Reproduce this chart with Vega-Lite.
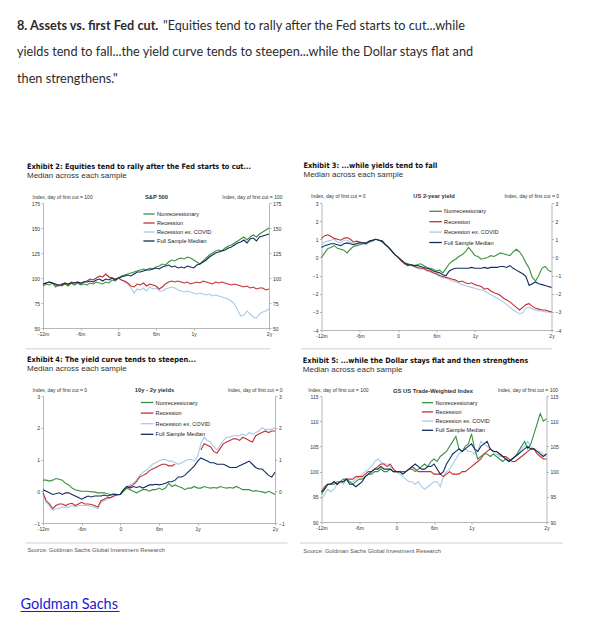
{
"$schema":"https://vega.github.io/schema/vega-lite/v6.json",
"padding":{"left":17,"top":0,"right":5,"bottom":5},
"datasets":{
"hdr":[
{"line":1,"seg":"b","text":"8. Assets vs. first Fed cut."},
{"line":1,"seg":"a","text":"\"Equities tend to rally after the Fed starts to cut...while"},
{"line":2,"seg":"c","text":"yields tend to fall...the yield curve tends to steepen...while the Dollar stays flat and"},
{"line":3,"seg":"c","text":"then strengthens.\""}],
"spx":[
{"m":-12,"N":92,"R":94,"C":94,"F":94},{"m":-11.5,"N":94,"R":95,"C":95,"F":95},{"m":-11,"N":93,"R":96,"C":96,"F":96},{"m":-10.5,"N":95,"R":95,"C":95,"F":95},
{"m":-10,"N":91,"R":93,"C":93,"F":94},{"m":-9.5,"N":93,"R":92,"C":92,"F":93},{"m":-9,"N":92,"R":94,"C":94,"F":93},{"m":-8.5,"N":94,"R":95,"C":95,"F":95},
{"m":-8,"N":92,"R":93,"C":93,"F":94},{"m":-7.5,"N":95,"R":96,"C":96,"F":95},{"m":-7,"N":93,"R":95,"C":95,"F":95},{"m":-6.5,"N":95,"R":96,"C":96,"F":96},
{"m":-6,"N":93,"R":94,"C":94,"F":95},{"m":-5.5,"N":94,"R":96,"C":96,"F":96},{"m":-5,"N":93,"R":97,"C":97,"F":96},{"m":-4.5,"N":95,"R":99,"C":99,"F":97},
{"m":-4,"N":94,"R":98,"C":98,"F":96},{"m":-3.5,"N":96,"R":100,"C":100,"F":98},{"m":-3,"N":95,"R":102,"C":102,"F":99},{"m":-2.5,"N":94,"R":101,"C":101,"F":97},
{"m":-2,"N":96,"R":104,"C":104,"F":99},{"m":-1.5,"N":95,"R":101,"C":101,"F":98},{"m":-1,"N":98,"R":100,"C":100,"F":100},{"m":-0.5,"N":97,"R":99,"C":99,"F":98},
{"m":0,"N":100,"R":100,"C":100,"F":100},{"m":0.5,"N":102,"R":98,"C":98,"F":101},{"m":1,"N":103,"R":97,"C":96,"F":102},{"m":1.5,"N":104,"R":95,"C":94,"F":103},
{"m":2,"N":105,"R":92,"C":90,"F":102},{"m":2.5,"N":106,"R":91,"C":85,"F":104},{"m":3,"N":107,"R":94,"C":89,"F":106},{"m":3.5,"N":108,"R":93,"C":88,"F":106},
{"m":4,"N":109,"R":95,"C":90,"F":107},{"m":4.5,"N":108,"R":92,"C":87,"F":108},{"m":5,"N":110,"R":94,"C":91,"F":108},{"m":5.5,"N":109,"R":93,"C":89,"F":109},
{"m":6,"N":111,"R":92,"C":90,"F":110},{"m":6.5,"N":112,"R":89,"C":87,"F":109},{"m":7,"N":114,"R":91,"C":87,"F":111},{"m":7.5,"N":113,"R":94,"C":89,"F":112},
{"m":8,"N":116,"R":96,"C":90,"F":113},{"m":8.5,"N":118,"R":97,"C":91,"F":111},{"m":9,"N":117,"R":96,"C":90,"F":112},{"m":9.5,"N":119,"R":97,"C":88,"F":110},
{"m":10,"N":120,"R":96,"C":87,"F":111},{"m":10.5,"N":119,"R":95,"C":86,"F":110},{"m":11,"N":121,"R":96,"C":87,"F":112},{"m":11.5,"N":120,"R":94,"C":86,"F":111},
{"m":12,"N":118,"R":95,"C":85,"F":110},{"m":12.5,"N":116,"R":96,"C":84,"F":113},{"m":13,"N":114,"R":95,"C":85,"F":114},{"m":13.5,"N":117,"R":97,"C":84,"F":116},
{"m":14,"N":120,"R":96,"C":83,"F":118},{"m":14.5,"N":123,"R":95,"C":84,"F":121},{"m":15,"N":125,"R":94,"C":82,"F":123},{"m":15.5,"N":127,"R":96,"C":83,"F":125},
{"m":16,"N":128,"R":95,"C":82,"F":126},{"m":16.5,"N":127,"R":96,"C":81,"F":127},{"m":17,"N":130,"R":95,"C":80,"F":128},{"m":17.5,"N":132,"R":94,"C":79,"F":130},
{"m":18,"N":133,"R":93,"C":77,"F":131},{"m":18.5,"N":135,"R":94,"C":74,"F":133},{"m":19,"N":137,"R":93,"C":68,"F":135},{"m":19.5,"N":139,"R":92,"C":62,"F":136},
{"m":20,"N":141,"R":91,"C":63,"F":138},{"m":20.5,"N":138,"R":92,"C":67,"F":135},{"m":21,"N":141,"R":90,"C":64,"F":139},{"m":21.5,"N":143,"R":91,"C":61,"F":140},
{"m":22,"N":141,"R":89,"C":60,"F":137},{"m":22.5,"N":144,"R":90,"C":64,"F":141},{"m":23,"N":146,"R":90,"C":66,"F":142},{"m":23.5,"N":148,"R":88,"C":67,"F":143},
{"m":24,"N":150,"R":89,"C":69,"F":144}],
"ust":[
{"m":-12,"N":0.0,"R":1.05,"C":0.7,"F":0.55},{"m":-11.5,"N":0.25,"R":1.2,"C":0.85,"F":0.65},{"m":-11,"N":0.5,"R":1.25,"C":0.9,"F":0.7},{"m":-10.5,"N":0.55,"R":1.15,"C":0.95,"F":0.75},
{"m":-10,"N":0.65,"R":1.05,"C":1.0,"F":0.75},{"m":-9.5,"N":0.5,"R":1.0,"C":0.85,"F":0.7},{"m":-9,"N":0.45,"R":0.95,"C":0.8,"F":0.65},{"m":-8.5,"N":0.4,"R":1.05,"C":0.95,"F":0.75},
{"m":-8,"N":0.25,"R":1.1,"C":0.95,"F":0.8},{"m":-7.5,"N":0.45,"R":1.0,"C":0.85,"F":0.75},{"m":-7,"N":0.6,"R":0.85,"C":0.75,"F":0.7},{"m":-6.5,"N":0.65,"R":0.9,"C":0.8,"F":0.75},
{"m":-6,"N":0.7,"R":0.85,"C":0.85,"F":0.8},{"m":-5.5,"N":0.75,"R":0.8,"C":0.75,"F":0.8},{"m":-5,"N":0.8,"R":0.75,"C":0.7,"F":0.8},{"m":-4.5,"N":0.85,"R":0.9,"C":0.85,"F":0.9},
{"m":-4,"N":0.9,"R":0.95,"C":0.95,"F":0.95},{"m":-3.5,"N":1.0,"R":1.0,"C":1.0,"F":1.0},{"m":-3,"N":0.95,"R":0.95,"C":0.95,"F":0.95},{"m":-2.5,"N":0.85,"R":0.9,"C":0.9,"F":0.9},
{"m":-2,"N":0.7,"R":0.7,"C":0.7,"F":0.7},{"m":-1.5,"N":0.55,"R":0.55,"C":0.55,"F":0.55},{"m":-1,"N":0.35,"R":0.35,"C":0.35,"F":0.35},{"m":-0.5,"N":0.15,"R":0.15,"C":0.15,"F":0.15},
{"m":0,"N":0,"R":0,"C":0,"F":0},{"m":0.5,"N":-0.15,"R":-0.2,"C":-0.2,"F":-0.15},{"m":1,"N":-0.3,"R":-0.35,"C":-0.35,"F":-0.3},{"m":1.5,"N":-0.35,"R":-0.45,"C":-0.45,"F":-0.4},
{"m":2,"N":-0.4,"R":-0.4,"C":-0.45,"F":-0.4},{"m":2.5,"N":-0.45,"R":-0.5,"C":-0.5,"F":-0.45},{"m":3,"N":-0.4,"R":-0.55,"C":-0.6,"F":-0.45},{"m":3.5,"N":-0.35,"R":-0.6,"C":-0.65,"F":-0.5},
{"m":4,"N":-0.45,"R":-0.6,"C":-0.65,"F":-0.55},{"m":4.5,"N":-0.55,"R":-0.7,"C":-0.75,"F":-0.6},{"m":5,"N":-0.6,"R":-0.75,"C":-0.8,"F":-0.65},{"m":5.5,"N":-0.65,"R":-0.85,"C":-0.85,"F":-0.75},
{"m":6,"N":-0.75,"R":-0.9,"C":-0.95,"F":-0.8},{"m":6.5,"N":-0.7,"R":-1.0,"C":-1.05,"F":-0.85},{"m":7,"N":-0.85,"R":-1.05,"C":-1.1,"F":-0.95},{"m":7.5,"N":-0.6,"R":-1.1,"C":-1.15,"F":-1.0},
{"m":8,"N":-0.35,"R":-1.15,"C":-1.2,"F":-0.75},{"m":8.5,"N":-0.2,"R":-1.2,"C":-1.3,"F":-0.65},{"m":9,"N":-0.1,"R":-1.25,"C":-1.35,"F":-0.6},{"m":9.5,"N":0.05,"R":-1.35,"C":-1.4,"F":-0.6},
{"m":10,"N":0.15,"R":-1.3,"C":-1.5,"F":-0.6},{"m":10.5,"N":0.3,"R":-1.4,"C":-1.55,"F":-0.6},{"m":11,"N":0.55,"R":-1.45,"C":-1.6,"F":-0.6},{"m":11.5,"N":0.35,"R":-1.4,"C":-1.65,"F":-0.55},
{"m":12,"N":0.1,"R":-1.5,"C":-1.7,"F":-0.6},{"m":12.5,"N":0.05,"R":-1.55,"C":-1.75,"F":-0.6},{"m":13,"N":-0.1,"R":-1.6,"C":-1.8,"F":-0.6},{"m":13.5,"N":-0.05,"R":-1.75,"C":-1.85,"F":-0.55},
{"m":14,"N":0.0,"R":-1.7,"C":-1.95,"F":-0.6},{"m":14.5,"N":0.1,"R":-1.85,"C":-2.05,"F":-0.55},{"m":15,"N":0.05,"R":-1.95,"C":-2.15,"F":-0.55},{"m":15.5,"N":0.15,"R":-2.0,"C":-2.25,"F":-0.55},
{"m":16,"N":0.25,"R":-2.1,"C":-2.35,"F":-0.5},{"m":16.5,"N":0.2,"R":-2.25,"C":-2.45,"F":-0.5},{"m":17,"N":0.15,"R":-2.35,"C":-2.6,"F":-0.55},{"m":17.5,"N":0.1,"R":-2.45,"C":-2.75,"F":-0.45},
{"m":18,"N":0.3,"R":-2.6,"C":-2.9,"F":-0.6},{"m":18.5,"N":0.45,"R":-2.75,"C":-3.0,"F":-0.7},{"m":19,"N":0.3,"R":-2.9,"C":-3.1,"F":-0.8},{"m":19.5,"N":0.05,"R":-2.75,"C":-3.05,"F":-0.9},
{"m":20,"N":-0.3,"R":-2.6,"C":-2.8,"F":-1.05},{"m":20.5,"N":-0.6,"R":-2.55,"C":-2.75,"F":-1.55},{"m":21,"N":-1.1,"R":-2.7,"C":-2.85,"F":-1.45},{"m":21.5,"N":-1.3,"R":-2.8,"C":-2.9,"F":-1.35},
{"m":22,"N":-1.0,"R":-2.85,"C":-2.95,"F":-1.45},{"m":22.5,"N":-0.6,"R":-2.9,"C":-2.95,"F":-1.5},{"m":23,"N":-0.5,"R":-2.9,"C":-3.0,"F":-1.55},{"m":23.5,"N":-0.7,"R":-2.95,"C":-3.0,"F":-1.6},
{"m":24,"N":-0.8,"R":-3.0,"C":-3.05,"F":-1.65}],
"curve":[
{"m":-12,"N":0.35,"R":-0.05,"C":-0.1,"F":0.05},{"m":-11.5,"N":0.35,"R":-0.3,"C":-0.35,"F":0.0},{"m":-11,"N":0.32,"R":-0.4,"C":-0.45,"F":-0.05},{"m":-10.5,"N":0.35,"R":-0.55,"C":-0.6,"F":-0.1},
{"m":-10,"N":0.4,"R":-0.45,"C":-0.55,"F":-0.08},{"m":-9.5,"N":0.38,"R":-0.4,"C":-0.55,"F":-0.05},{"m":-9,"N":0.35,"R":-0.4,"C":-0.5,"F":-0.1},{"m":-8.5,"N":0.25,"R":-0.45,"C":-0.5,"F":-0.05},
{"m":-8,"N":0.2,"R":-0.4,"C":-0.5,"F":-0.05},{"m":-7.5,"N":0.1,"R":-0.38,"C":-0.45,"F":-0.1},{"m":-7,"N":0.05,"R":-0.45,"C":-0.5,"F":-0.15},{"m":-6.5,"N":0.02,"R":-0.4,"C":-0.45,"F":-0.2},
{"m":-6,"N":0.0,"R":-0.35,"C":-0.45,"F":-0.25},{"m":-5.5,"N":0.0,"R":-0.4,"C":-0.45,"F":-0.2},{"m":-5,"N":0.0,"R":-0.4,"C":-0.45,"F":-0.15},{"m":-4.5,"N":-0.02,"R":-0.42,"C":-0.48,"F":-0.18},
{"m":-4,"N":-0.02,"R":-0.45,"C":-0.5,"F":-0.15},{"m":-3.5,"N":-0.05,"R":-0.5,"C":-0.55,"F":-0.15},{"m":-3,"N":-0.05,"R":-0.3,"C":-0.35,"F":-0.15},{"m":-2.5,"N":-0.05,"R":-0.25,"C":-0.3,"F":-0.12},
{"m":-2,"N":-0.08,"R":-0.2,"C":-0.25,"F":-0.15},{"m":-1.5,"N":-0.1,"R":-0.2,"C":-0.2,"F":-0.12},{"m":-1,"N":-0.08,"R":-0.15,"C":-0.15,"F":-0.1},{"m":-0.5,"N":-0.1,"R":-0.12,"C":-0.12,"F":-0.1},
{"m":0,"N":-0.1,"R":-0.1,"C":-0.1,"F":-0.1},{"m":0.5,"N":0.0,"R":0.05,"C":0.05,"F":0.05},{"m":1,"N":0.1,"R":0.1,"C":0.15,"F":0.15},{"m":1.5,"N":0.05,"R":0.15,"C":0.2,"F":0.1},
{"m":2,"N":0.0,"R":0.2,"C":0.25,"F":0.15},{"m":2.5,"N":-0.05,"R":0.3,"C":0.35,"F":0.12},{"m":3,"N":0.0,"R":0.45,"C":0.5,"F":0.15},{"m":3.5,"N":0.05,"R":0.5,"C":0.6,"F":0.1},
{"m":4,"N":0.05,"R":0.55,"C":0.65,"F":0.15},{"m":4.5,"N":0.0,"R":0.65,"C":0.75,"F":0.2},{"m":5,"N":0.05,"R":0.7,"C":0.85,"F":0.2},{"m":5.5,"N":0.05,"R":0.75,"C":0.9,"F":0.22},
{"m":6,"N":0.1,"R":0.8,"C":0.95,"F":0.2},{"m":6.5,"N":0.05,"R":0.85,"C":1.0,"F":0.22},{"m":7,"N":0.1,"R":0.85,"C":1.0,"F":0.25},{"m":7.5,"N":0.25,"R":0.8,"C":0.95,"F":0.3},
{"m":8,"N":0.15,"R":0.8,"C":0.95,"F":0.3},{"m":8.5,"N":0.2,"R":0.85,"C":0.9,"F":0.35},{"m":9,"N":0.15,"R":null,"C":0.85,"F":0.45},{"m":9.5,"N":0.12,"R":null,"C":0.9,"F":0.45},
{"m":10,"N":0.05,"R":null,"C":0.95,"F":0.5},{"m":10.5,"N":0.1,"R":null,"C":1.0,"F":0.6},{"m":11,"N":0.1,"R":null,"C":1.0,"F":0.7},{"m":11.5,"N":0.15,"R":null,"C":0.95,"F":0.8},
{"m":12,"N":0.1,"R":null,"C":1.1,"F":0.95},{"m":12.5,"N":0.1,"R":1.3,"C":1.5,"F":1.05},{"m":13,"N":0.15,"R":1.5,"C":1.7,"F":1.0},{"m":13.5,"N":0.12,"R":1.45,"C":1.6,"F":0.95},
{"m":14,"N":0.1,"R":1.4,"C":1.55,"F":0.9},{"m":14.5,"N":0.12,"R":1.25,"C":1.4,"F":0.9},{"m":15,"N":0.1,"R":1.2,"C":1.3,"F":0.85},{"m":15.5,"N":0.15,"R":1.35,"C":1.45,"F":0.85},
{"m":16,"N":0.12,"R":1.5,"C":1.6,"F":0.85},{"m":16.5,"N":0.1,"R":1.55,"C":1.7,"F":0.8},{"m":17,"N":0.12,"R":1.6,"C":1.7,"F":0.75},{"m":17.5,"N":0.1,"R":1.65,"C":1.75,"F":0.75},
{"m":18,"N":0.15,"R":1.65,"C":1.75,"F":0.75},{"m":18.5,"N":0.1,"R":1.6,"C":1.75,"F":0.8},{"m":19,"N":0.05,"R":1.7,"C":1.8,"F":0.85},{"m":19.5,"N":0.05,"R":1.65,"C":1.75,"F":0.9},
{"m":20,"N":0.05,"R":1.6,"C":1.85,"F":0.95},{"m":20.5,"N":0.0,"R":1.55,"C":1.8,"F":0.85},{"m":21,"N":0.02,"R":1.75,"C":1.85,"F":0.75},{"m":21.5,"N":0.0,"R":1.8,"C":1.9,"F":0.7},
{"m":22,"N":-0.02,"R":1.85,"C":2.0,"F":0.7},{"m":22.5,"N":-0.05,"R":1.9,"C":1.95,"F":0.6},{"m":23,"N":0.0,"R":1.85,"C":1.95,"F":0.5},{"m":23.5,"N":-0.05,"R":1.9,"C":1.95,"F":0.45},
{"m":24,"N":-0.1,"R":1.9,"C":2.0,"F":0.6}],
"usd":[
{"m":-12,"N":95.5,"R":96,"C":94.5,"F":96},{"m":-11.5,"N":96.5,"R":97,"C":95.5,"F":96.5},{"m":-11,"N":97.5,"R":97.5,"C":96.5,"F":97.5},{"m":-10.5,"N":97.5,"R":97.5,"C":96,"F":97.5},
{"m":-10,"N":97.5,"R":98,"C":96.5,"F":98},{"m":-9.5,"N":98,"R":97.5,"C":97.5,"F":97.5},{"m":-9,"N":98,"R":98,"C":98,"F":98},{"m":-8.5,"N":98.5,"R":98,"C":97.5,"F":98},
{"m":-8,"N":98.5,"R":98.5,"C":98.5,"F":98.5},{"m":-7.5,"N":98,"R":98.5,"C":98,"F":97.5},{"m":-7,"N":97.5,"R":98.5,"C":98,"F":97.5},{"m":-6.5,"N":98,"R":99,"C":98.5,"F":97},
{"m":-6,"N":98.5,"R":99,"C":99,"F":97.5},{"m":-5.5,"N":98.5,"R":99,"C":99.5,"F":98},{"m":-5,"N":99,"R":99.5,"C":100,"F":99},{"m":-4.5,"N":99.5,"R":100,"C":100.5,"F":99.5},
{"m":-4,"N":99.5,"R":100,"C":101,"F":100},{"m":-3.5,"N":100,"R":100.5,"C":102,"F":100.5},{"m":-3,"N":100,"R":101,"C":102.5,"F":100.5},{"m":-2.5,"N":100.5,"R":101.5,"C":102,"F":101},
{"m":-2,"N":100,"R":101.5,"C":101.5,"F":100.5},{"m":-1.5,"N":100,"R":101,"C":101.5,"F":100.5},{"m":-1,"N":100.5,"R":101.5,"C":101,"F":100.5},{"m":-0.5,"N":100,"R":100.5,"C":100.5,"F":100},
{"m":0,"N":100,"R":100,"C":100,"F":100},{"m":0.5,"N":100,"R":100,"C":99.5,"F":100},{"m":1,"N":99.5,"R":100,"C":99,"F":99.5},{"m":1.5,"N":100,"R":100,"C":98.5,"F":100},
{"m":2,"N":100.5,"R":100.5,"C":98,"F":100.5},{"m":2.5,"N":100.5,"R":101,"C":98,"F":101},{"m":3,"N":100,"R":100.5,"C":97.5,"F":101.5},{"m":3.5,"N":100.5,"R":100,"C":98,"F":101},
{"m":4,"N":101,"R":100,"C":97,"F":100.5},{"m":4.5,"N":101.5,"R":100,"C":96.5,"F":100.5},{"m":5,"N":101,"R":100,"C":97,"F":101},{"m":5.5,"N":102,"R":100,"C":97.5,"F":101},
{"m":6,"N":102.5,"R":99.5,"C":98,"F":101.5},{"m":6.5,"N":102,"R":99.5,"C":98,"F":100.5},{"m":7,"N":103,"R":99.5,"C":97,"F":99.5},{"m":7.5,"N":103.5,"R":99,"C":99,"F":100},
{"m":8,"N":104,"R":99.5,"C":100,"F":101.5},{"m":8.5,"N":105,"R":100,"C":100.5,"F":102.5},{"m":9,"N":106,"R":99.5,"C":101.5,"F":103.5},{"m":9.5,"N":107,"R":99.5,"C":102.5,"F":104},
{"m":10,"N":104.5,"R":99.5,"C":103.5,"F":104.5},{"m":10.5,"N":104,"R":100,"C":104,"F":104},{"m":11,"N":105,"R":100,"C":104.5,"F":104.5},{"m":11.5,"N":105.5,"R":100.5,"C":104,"F":105},
{"m":12,"N":107.5,"R":101,"C":104,"F":105.5},{"m":12.5,"N":104.5,"R":101.5,"C":103.5,"F":104.5},{"m":13,"N":102.5,"R":102,"C":104,"F":104},{"m":13.5,"N":103,"R":102.5,"C":106,"F":105},
{"m":14,"N":103.5,"R":103.5,"C":105.5,"F":105.5},{"m":14.5,"N":103.5,"R":104,"C":105,"F":106},{"m":15,"N":103,"R":104.5,"C":104.5,"F":104.5},{"m":15.5,"N":103.5,"R":104,"C":104,"F":104},
{"m":16,"N":103,"R":104,"C":103.5,"F":104},{"m":16.5,"N":102.5,"R":103.5,"C":103,"F":103.5},{"m":17,"N":102,"R":103,"C":103,"F":103},{"m":17.5,"N":102.5,"R":103,"C":102.5,"F":102.5},
{"m":18,"N":102,"R":102.5,"C":102,"F":102},{"m":18.5,"N":102.5,"R":102,"C":102.5,"F":102.5},{"m":19,"N":103,"R":102,"C":103,"F":103},{"m":19.5,"N":104,"R":102.5,"C":103.5,"F":103.5},
{"m":20,"N":105,"R":103,"C":104.5,"F":104},{"m":20.5,"N":106,"R":103.5,"C":105,"F":104.5},{"m":21,"N":104.5,"R":104,"C":106,"F":105},{"m":21.5,"N":105.5,"R":104.5,"C":105,"F":104.5},
{"m":22,"N":107.5,"R":104.5,"C":104.5,"F":104.5},{"m":22.5,"N":109.5,"R":103.5,"C":104,"F":104},{"m":23,"N":111.5,"R":103,"C":104,"F":103.5},{"m":23.5,"N":110,"R":102.5,"C":103.5,"F":103},
{"m":24,"N":110.5,"R":102.5,"C":103.5,"F":103.5}]
},
"concat":[
{"width":1,"height":203,"data":{"name":"hdr"},
 "layer":[
  {"transform":[{"filter":"datum.seg=='b'"}],"mark":{"type":"text","align":"left","baseline":"middle","font":"Lato","fontSize":12.7,"fontWeight":"bold","color":"#2b2b2b"},
   "encoding":{"x":{"value":-26},"y":{"field":"line","type":"quantitative","scale":{"domain":[0.0377,7.698],"reverse":true,"nice":false,"zero":false},"axis":null},"text":{"field":"text"}}},
  {"transform":[{"filter":"datum.seg=='a'"}],"mark":{"type":"text","align":"left","baseline":"middle","font":"Lato","fontSize":12.7,"color":"#2b2b2b","dx":146},
   "encoding":{"x":{"value":-26},"y":{"field":"line","type":"quantitative","scale":{"domain":[0.0377,7.698],"reverse":true,"nice":false,"zero":false},"axis":null},"text":{"field":"text"}}},
  {"transform":[{"filter":"datum.seg=='c'"}],"mark":{"type":"text","align":"left","baseline":"middle","font":"Lato","fontSize":12.7,"color":"#2b2b2b"},
   "encoding":{"x":{"value":-26},"y":{"field":"line","type":"quantitative","scale":{"domain":[0.0377,7.698],"reverse":true,"nice":false,"zero":false},"axis":null},"text":{"field":"text"}}}
 ]},
{"width":1,"height":1,"mark":{"type":"rule","opacity":0},"encoding":{"x":{"datum":0,"type":"quantitative","axis":null}}},
  {"width":226,"height":125,
   "title":{"text":"Exhibit 2: Equities tend to rally after the Fed starts to cut...","subtitle":"Median across each sample","dx":-16},
   "layer":[
    {"mark":{"type":"rule","color":"#a0a0a0","strokeWidth":0.7},
     "encoding":{"y":{"datum":100,"type":"quantitative","axis":{"orient":"right","values":[50,75,100,125,150,175],"title":"Index, day of first cut = 100","titleX":13,"titleY":-7,"titleAlign":"right"}}}},
    {"mark":{"type":"rule","color":"#a0a0a0","strokeWidth":0.7},
     "encoding":{"x":{"datum":0,"type":"quantitative","scale":{"domain":[-12,24],"nice":false},"axis":{"orient":"top","title":"S&P 500","titleX":113,"titleY":-7,"titleAlign":"center","labels":false,"ticks":false,"domain":false,"titleFontWeight":"bold","titleFontSize":5.8}}}},
    {"data":{"name":"spx"},"transform":[{"fold":["C","R","N","F"],"as":["s","v"]}],
     "mark":{"type":"line","strokeWidth":1.1,"invalid":"break-paths-show-domains"},
     "encoding":{
      "x":{"field":"m","type":"quantitative","scale":{"domain":[-12,24],"nice":false},"axis":{"orient":"bottom","values":[-12,-6,0,6,12,24],"labelExpr":"datum.value==-12?'-12m':datum.value==-6?'-6m':datum.value==0?'0':datum.value==6?'6m':datum.value==12?'1y':'2y'","title":null}},
      "y":{"field":"v","type":"quantitative","scale":{"domain":[50,175],"nice":false,"zero":false},"axis":{"orient":"left","values":[50,75,100,125,150,175],"title":"Index, day of first cut = 100","titleX":-11,"titleY":-7,"titleAlign":"left"}},
      "color":{"field":"s","type":"nominal","scale":{"domain":["N","R","C","F"],"range":["#3a9140","#c4302f","#a6cbee","#0f2c5e"]},
       "legend":{"orient":"none","legendX":101,"legendY":6,"title":null,"symbolType":"M-1.4,0H1.4","symbolSize":64,"rowPadding":0,"labelExpr":"datum.label=='N'?'Nonrecessionary':datum.label=='R'?'Recession':datum.label=='C'?'Recession ex. COVID':'Full Sample Median'"}}
     }}
   ],
   "resolve":{"scale":{"x":"independent"},"axis":{"x":"independent","y":"independent"}}},
  {"width":230,"height":127,
   "title":{"text":"Exhibit 3: ...while yields tend to fall","subtitle":"Median across each sample","dx":-18},
   "layer":[
    {"mark":{"type":"rule","color":"#a0a0a0","strokeWidth":0.7},
     "encoding":{"y":{"datum":0,"type":"quantitative","axis":{"orient":"right","values":[-4,-3,-2,-1,0,1,2,3],"title":"Index, day of first cut = 0","titleX":7,"titleY":-8,"titleAlign":"right"}}}},
    {"mark":{"type":"rule","color":"#a0a0a0","strokeWidth":0.7},
     "encoding":{"x":{"datum":0,"type":"quantitative","scale":{"domain":[-12,24],"nice":false},"axis":{"orient":"top","title":"US 2-year yield","titleX":112,"titleY":-8,"titleAlign":"center","labels":false,"ticks":false,"domain":false,"titleFontWeight":"bold","titleFontSize":5.8}}}},
    {"data":{"name":"ust"},"transform":[{"fold":["C","R","N","F"],"as":["s","v"]}],
     "mark":{"type":"line","strokeWidth":1.1,"invalid":"break-paths-show-domains"},
     "encoding":{
      "x":{"field":"m","type":"quantitative","scale":{"domain":[-12,24],"nice":false},"axis":{"orient":"bottom","values":[-12,-6,0,6,12,24],"labelExpr":"datum.value==-12?'-12m':datum.value==-6?'-6m':datum.value==0?'0':datum.value==6?'6m':datum.value==12?'1y':'2y'","title":null}},
      "y":{"field":"v","type":"quantitative","scale":{"domain":[-4,3],"nice":false,"zero":false},"axis":{"orient":"left","values":[-4,-3,-2,-1,0,1,2,3],"title":"Index, day of first cut = 0","titleX":-11,"titleY":-8,"titleAlign":"left"}},
      "color":{"field":"s","type":"nominal","scale":{"domain":["N","R","C","F"],"range":["#3a9140","#c4302f","#a6cbee","#0f2c5e"]},
       "legend":{"orient":"none","legendX":108.6,"legendY":2.8,"title":null,"symbolType":"M-1.4,0H1.4","symbolSize":81,"rowPadding":0.4,"labelExpr":"datum.label=='N'?'Nonrecessionary':datum.label=='R'?'Recession':datum.label=='C'?'Recession ex. COVID':'Full Sample Median'"}}
     }}
   ],
   "resolve":{"scale":{"x":"independent"},"axis":{"x":"independent","y":"independent"}}},
  {"width":245,"height":65.5,"mark":{"type":"rule","opacity":0},
   "encoding":{"x":{"datum":0,"type":"quantitative","scale":{"domain":[0,1]},"axis":{"orient":"top","offset":-18.3,"position":-18,"labels":false,"ticks":false,"domainColor":"#c4c4c4","domainWidth":0.8,"title":null}}}},
  {"width":251,"height":65.5,"mark":{"type":"rule","opacity":0},
   "encoding":{"x":{"datum":0,"type":"quantitative","scale":{"domain":[0,1]},"axis":{"orient":"top","offset":-18.3,"position":-21,"labels":false,"ticks":false,"domainColor":"#c4c4c4","domainWidth":0.8,"title":null}}}},
  {"width":232,"height":127,
   "title":{"text":"Exhibit 4: The yield curve tends to steepen...","subtitle":"Median across each sample","dx":-16},
   "layer":[
    {"mark":{"type":"rule","color":"#a0a0a0","strokeWidth":0.7},
     "encoding":{"y":{"datum":0,"type":"quantitative","axis":{"orient":"right","values":[-1,0,1,2,3],"title":"Index, day of first cut = 0","titleX":7,"titleY":-7,"titleAlign":"right"}}}},
    {"mark":{"type":"rule","color":"#a0a0a0","strokeWidth":0.7},
     "encoding":{"x":{"datum":0,"type":"quantitative","scale":{"domain":[-12,24],"nice":false},"axis":{"orient":"top","title":"10y - 2y yields","titleX":111,"titleY":-7,"titleAlign":"center","labels":false,"ticks":false,"domain":false,"titleFontWeight":"bold","titleFontSize":5.8}}}},
    {"data":{"name":"curve"},"transform":[{"fold":["C","R","N","F"],"as":["s","v"]}],
     "mark":{"type":"line","strokeWidth":1.1,"invalid":"break-paths-show-domains"},
     "encoding":{
      "x":{"field":"m","type":"quantitative","scale":{"domain":[-12,24],"nice":false},"axis":{"orient":"bottom","values":[-12,-6,0,6,12,24],"labelExpr":"datum.value==-12?'-12m':datum.value==-6?'-6m':datum.value==0?'0':datum.value==6?'6m':datum.value==12?'1y':'2y'","title":null}},
      "y":{"field":"v","type":"quantitative","scale":{"domain":[-1,3],"nice":false,"zero":false},"axis":{"orient":"left","values":[-1,0,1,2,3],"title":"Index, day of first cut = 0","titleX":-11,"titleY":-7,"titleAlign":"left"}},
      "color":{"field":"s","type":"nominal","scale":{"domain":["N","R","C","F"],"range":["#3a9140","#c4302f","#a6cbee","#0f2c5e"]},
       "legend":{"orient":"none","legendX":98.6,"legendY":1,"title":null,"symbolType":"M-1.4,0H1.4","symbolSize":81,"rowPadding":0.6,"labelExpr":"datum.label=='N'?'Nonrecessionary':datum.label=='R'?'Recession':datum.label=='C'?'Recession ex. COVID':'Full Sample Median'"}}
     }}
   ],
   "resolve":{"scale":{"x":"independent"},"axis":{"x":"independent","y":"independent"}}},
  {"width":225,"height":126,
   "title":{"text":"Exhibit 5: ...while the Dollar stays flat and then strengthens","subtitle":"Median across each sample","dx":-18.7},
   "layer":[
    {"mark":{"type":"rule","color":"#a0a0a0","strokeWidth":0.7},
     "encoding":{"y":{"datum":100,"type":"quantitative","axis":{"orient":"right","values":[90,95,100,105,110,115],"title":"Index, day of first cut = 100","titleX":11,"titleY":-7,"titleAlign":"right"}}}},
    {"mark":{"type":"rule","color":"#a0a0a0","strokeWidth":0.7},
     "encoding":{"x":{"datum":0,"type":"quantitative","scale":{"domain":[-12,24],"nice":false},"axis":{"orient":"top","title":"GS US Trade-Weighted Index","titleX":111,"titleY":-6,"titleAlign":"center","labels":false,"ticks":false,"domain":false,"titleFontWeight":"bold","titleFontSize":5.8}}}},
    {"data":{"name":"usd"},"transform":[{"fold":["C","R","N","F"],"as":["s","v"]}],
     "mark":{"type":"line","strokeWidth":1.1,"invalid":"break-paths-show-domains"},
     "encoding":{
      "x":{"field":"m","type":"quantitative","scale":{"domain":[-12,24],"nice":false},"axis":{"orient":"bottom","values":[-12,-6,0,6,12,24],"labelExpr":"datum.value==-12?'-12m':datum.value==-6?'-6m':datum.value==0?'0':datum.value==6?'6m':datum.value==12?'1y':'2y'","title":null}},
      "y":{"field":"v","type":"quantitative","scale":{"domain":[90,115],"nice":false,"zero":false},"axis":{"orient":"left","values":[90,95,100,105,110,115],"title":"Index, day of first cut = 100","titleX":-13.7,"titleY":-7,"titleAlign":"left"}},
      "color":{"field":"s","type":"nominal","scale":{"domain":["N","R","C","F"],"range":["#3a9140","#c4302f","#a6cbee","#0f2c5e"]},
       "legend":{"orient":"none","legendX":101,"legendY":1.7,"title":null,"symbolType":"M-1.4,0H1.4","symbolSize":64,"rowPadding":0.2,"labelExpr":"datum.label=='N'?'Nonrecessionary':datum.label=='R'?'Recession':datum.label=='C'?'Recession ex. COVID':'Full Sample Median'"}}
     }}
   ],
   "resolve":{"scale":{"x":"independent"},"axis":{"x":"independent","y":"independent"}}},
  {"width":262,"height":19.5,"mark":{"type":"rule","opacity":0},
   "encoding":{"x":{"datum":0,"type":"quantitative","scale":{"domain":[0,1]},"axis":{"orient":"bottom","position":-18,"labels":false,"ticks":false,"domainColor":"#c4c4c4","domainWidth":0.8,"title":"Source: Goldman Sachs Global Investment Research","titleX":2,"titleY":7,"titleAlign":"left","titleFontSize":5.8,"titleColor":"#555555"}}}},
  {"width":263,"height":19.5,"mark":{"type":"rule","opacity":0},
   "encoding":{"x":{"datum":0,"type":"quantitative","scale":{"domain":[0,1]},"axis":{"orient":"bottom","position":-22,"labels":false,"ticks":false,"domainColor":"#c4c4c4","domainWidth":0.8,"title":"Source: Goldman Sachs Global Investment Research","titleX":3.3,"titleY":8,"titleAlign":"left","titleFontSize":5.8,"titleColor":"#555555"}}}},
{"width":99,"height":68,"mark":{"type":"rule","opacity":0},
 "encoding":{"x":{"datum":0,"type":"quantitative","scale":{"domain":[0,1]},"axis":{"orient":"bottom","position":-23,"labels":false,"ticks":false,"domainColor":"#1a1ad6","domainWidth":1,"title":"Goldman Sachs","titleX":0,"titleY":-7,"titleAlign":"left","titleFont":"Lato","titleFontSize":14.5,"titleColor":"#1a1ad6"}}}},
{"width":1,"height":1,"mark":{"type":"rule","opacity":0},"encoding":{"x":{"datum":0,"type":"quantitative","axis":null}}}
],
"columns":2,
"spacing":{"row":0,"column":16.5},
"bounds":"flush",
"align":"each",
"resolve":{"scale":{"color":"independent"},"legend":{"color":"independent"}},
"config":{
 "view":{"stroke":null},
 "font":"Liberation Sans",
 "axis":{"labelFont":"Liberation Sans","labelFontSize":5,"labelColor":"#333333","labelPadding":1.5,"labelFlush":false,"labelOverlap":false,"domainColor":"#9a9a9a","domainWidth":0.7,"tickColor":"#9a9a9a","tickWidth":0.7,"tickSize":2,"grid":false,"titleFont":"Liberation Sans","titleFontSize":5,"titleFontWeight":"normal","titleColor":"#333333","titleAngle":0,"titleBaseline":"middle","titlePadding":0},
 "legend":{"labelFont":"Liberation Sans","labelFontSize":5.6,"labelColor":"#222222","padding":0,"labelOffset":3,"symbolStrokeWidth":1.3},
 "title":{"anchor":"start","frame":"group","font":"Liberation Sans Narrow, DejaVu Sans Condensed, sans-serif","fontSize":7.4,"fontWeight":"bold","color":"#111111","subtitleFont":"Liberation Sans","subtitleFontSize":8,"subtitleColor":"#333333","subtitlePadding":1.5,"offset":13}
}
}
